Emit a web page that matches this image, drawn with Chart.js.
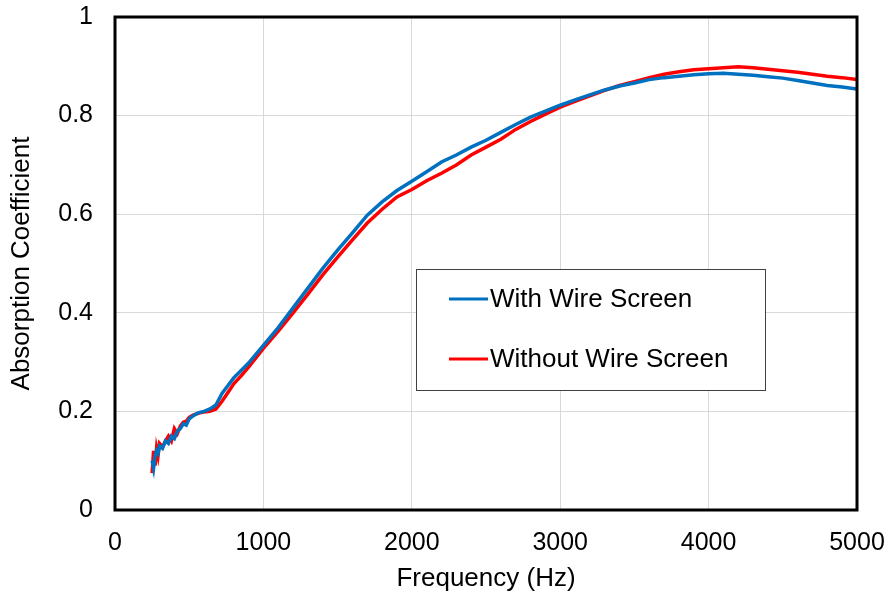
<!DOCTYPE html>
<html>
<head>
<meta charset="utf-8">
<script src="https://cdn.jsdelivr.net/npm/chart.js@4"></script>
<style>
  html, body { margin: 0; padding: 0; background: #fff; }
  #wrap { width: 891px; height: 594px; }
</style>
</head>
<body>
<div id="wrap"><canvas id="grafAbsorcion"></canvas></div>
<script>
// frecuencias medidas (Hz)
const frecuencias = [250, 260, 270, 280, 290, 300, 320, 340, 360, 380, 400, 420, 440, 460, 480,
  500, 530, 560, 600, 640, 680, 720, 760, 800, 850, 900, 1000, 1100, 1200, 1300, 1400,
  1500, 1600, 1700, 1800, 1900, 2000, 2100, 2200, 2300, 2400, 2500, 2600, 2700, 2800,
  2900, 3000, 3100, 3200, 3300, 3400, 3500, 3600, 3700, 3800, 3900, 4000, 4100, 4200,
  4300, 4400, 4500, 4600, 4700, 4800, 4900, 5000];

// coeficiente con malla
const conMalla = [0.100, 0.085, 0.110, 0.120, 0.115, 0.130, 0.125, 0.140, 0.135, 0.150, 0.145,
  0.160, 0.165, 0.175, 0.172, 0.185, 0.192, 0.197, 0.200, 0.205, 0.213, 0.236, 0.252, 0.268,
  0.283, 0.298, 0.334, 0.370, 0.410, 0.450, 0.490, 0.527, 0.562, 0.598, 0.625, 0.648, 0.667,
  0.686, 0.706, 0.720, 0.736, 0.750, 0.766, 0.782, 0.797, 0.809, 0.821, 0.832, 0.842, 0.852,
  0.860, 0.866, 0.873, 0.877, 0.880, 0.883, 0.885, 0.886, 0.884, 0.882, 0.879, 0.876, 0.871,
  0.866, 0.861, 0.858, 0.854];

// coeficiente sin malla
const sinMalla = [0.075, 0.120, 0.090, 0.125, 0.110, 0.135, 0.128, 0.140, 0.150, 0.140, 0.165,
  0.155, 0.170, 0.178, 0.180, 0.188, 0.193, 0.196, 0.199, 0.200, 0.205, 0.220, 0.238, 0.256,
  0.272, 0.290, 0.328, 0.363, 0.400, 0.438, 0.477, 0.513, 0.548, 0.582, 0.610, 0.635, 0.650,
  0.668, 0.683, 0.700, 0.720, 0.736, 0.752, 0.772, 0.788, 0.803, 0.817, 0.829, 0.840, 0.851,
  0.861, 0.869, 0.877, 0.884, 0.889, 0.893, 0.895, 0.897, 0.899, 0.897, 0.894, 0.891, 0.888,
  0.884, 0.880, 0.877, 0.873];

const ticksX = [0, 1000, 2000, 3000, 4000, 5000];
const ticksY = [0, 0.2, 0.4, 0.6, 0.8, 1];

const fuente = 'Arial, "Liberation Sans", sans-serif';

const datos = {
  datasets: [{
    label: 'With Wire Screen',
    data: frecuencias.map((f, i) => ({ x: f, y: conMalla[i] })),
    borderColor: '#0070C0',
    borderWidth: 3.5,
    pointRadius: 0,
    tension: 0
  }, {
    label: 'Without Wire Screen',
    data: frecuencias.map((f, i) => ({ x: f, y: sinMalla[i] })),
    borderColor: '#FF0000',
    borderWidth: 3.5,
    pointRadius: 0,
    tension: 0
  }]
};

// marco negro alrededor del area del grafico
const marco = {
  id: 'marco',
  afterDatasetsDraw(chart) {
    const { ctx, chartArea: a } = chart;
    ctx.save();
    ctx.strokeStyle = '#000';
    ctx.lineWidth = 3;
    ctx.strokeRect(a.left, a.top, a.right - a.left, a.bottom - a.top);
    ctx.restore();
  }
};

// leyenda con recuadro dentro del grafico
const leyenda = {
  id: 'leyenda',
  afterDraw(chart) {
    const ctx = chart.ctx;
    const x = 416, y = 269, w = 349, h = 121;
    ctx.save();
    ctx.fillStyle = '#fff';
    ctx.fillRect(x, y, w, h);
    ctx.strokeStyle = '#404040';
    ctx.lineWidth = 1;
    ctx.strokeRect(x + 0.5, y + 0.5, w, h);
    ctx.font = '26px ' + fuente;
    ctx.textBaseline = 'middle';
    chart.data.datasets.forEach((ds, i) => {
      const yy = y + 30 + i * 60;
      ctx.strokeStyle = ds.borderColor;
      ctx.lineWidth = 3;
      ctx.beginPath();
      ctx.moveTo(x + 33, yy);
      ctx.lineTo(x + 72, yy);
      ctx.stroke();
      ctx.fillStyle = '#000';
      ctx.fillText(ds.label, x + 74, yy + 1);
    });
    ctx.restore();
  }
};

const ctx = document.getElementById('grafAbsorcion').getContext('2d');
const grafAbsorcion = new Chart(ctx, {
  type: 'line',
  data: datos,
  plugins: [marco, leyenda],
  options: {
    responsive: true,
    maintainAspectRatio: false,
    animation: false,
    layout: { padding: { top: 17, right: 34, left: 0, bottom: 0 } },
    plugins: {
      legend: { display: false },
      tooltip: { enabled: false }
    },
    scales: {
      x: {
        type: 'linear',
        min: 0,
        max: 5000,
        afterFit: s => { s.height = 84; s.paddingLeft = 0; s.paddingRight = 0; },
        afterBuildTicks: s => { s.ticks = ticksX.map(v => ({ value: v })); },
        grid: { color: '#d9d9d9', lineWidth: 1, drawTicks: false },
        border: { display: false },
        ticks: {
          padding: 18,
          color: '#000',
          font: { family: fuente, size: 25 },
          callback: v => String(v)
        },
        title: {
          display: true,
          text: 'Frequency (Hz)',
          color: '#000',
          font: { family: fuente, size: 26 },
          padding: { top: 4, bottom: 0 }
        }
      },
      y: {
        min: 0,
        max: 1,
        afterFit: s => { s.width = 115; s.paddingTop = 0; s.paddingBottom = 0; },
        afterBuildTicks: s => { s.ticks = ticksY.map(v => ({ value: v })); },
        grid: { color: '#d9d9d9', lineWidth: 1, drawTicks: false },
        border: { display: false },
        ticks: {
          padding: 22,
          color: '#000',
          font: { family: fuente, size: 25 },
          callback: v => String(v)
        },
        title: {
          display: true,
          text: 'Absorption Coefficient',
          color: '#000',
          font: { family: fuente, size: 26 },
          padding: { top: 6, bottom: 0 }
        }
      }
    }
  }
});
</script>
</body>
</html>
